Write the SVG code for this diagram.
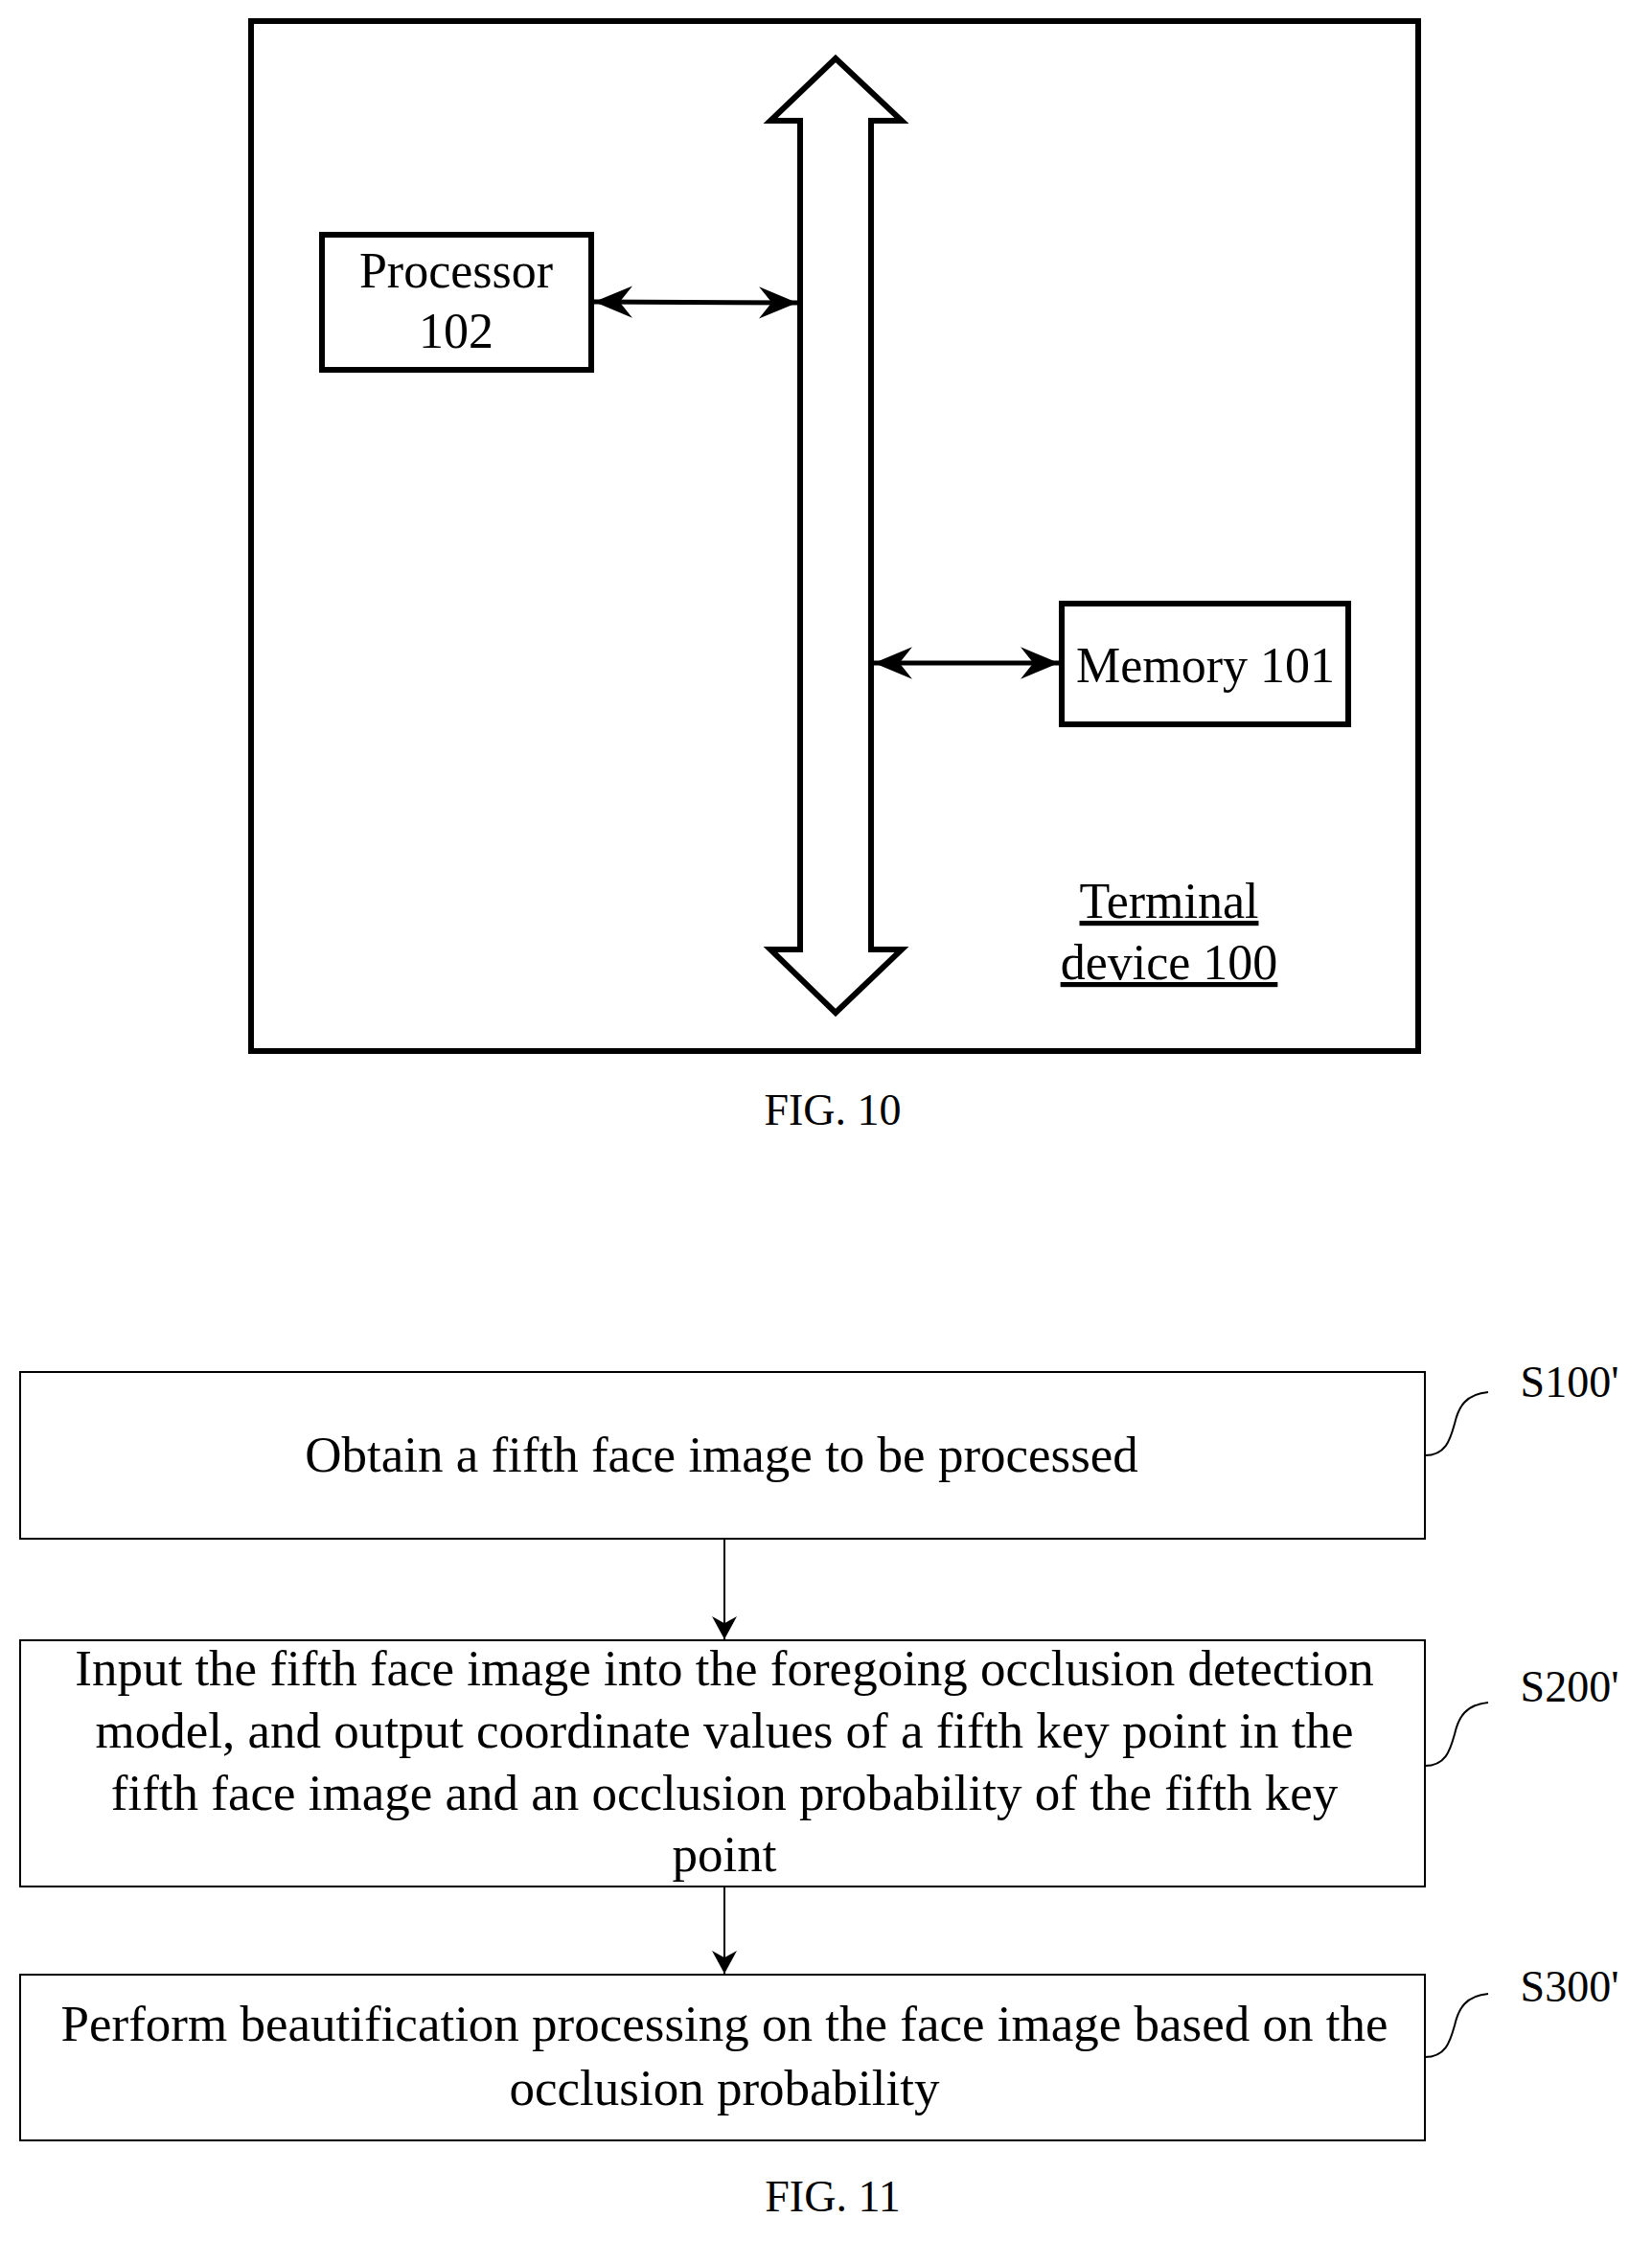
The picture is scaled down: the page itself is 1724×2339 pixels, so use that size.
<svg xmlns="http://www.w3.org/2000/svg" width="1724" height="2339" viewBox="0 0 1724 2339">
<style>
text{font-family:"Liberation Serif","Times New Roman",serif;fill:#000;text-anchor:middle}
.t1{font-size:52px}
.t3{font-size:46px}
.t2{font-size:53px}
.thick{fill:none;stroke:#000;stroke-width:6}
.box{fill:#fff;stroke:#000;stroke-width:2}
.ln{fill:none;stroke:#000;stroke-width:2}
</style>
<defs>
<marker id="bh" viewBox="0 0 12 10" refX="12" refY="5" markerWidth="40" markerHeight="34" orient="auto-start-reverse" markerUnits="userSpaceOnUse"><path d="M0,0 L12,5 L0,10 L4,5 z" fill="#000"/></marker>
<marker id="sh" viewBox="0 0 10 10" refX="10" refY="5" markerWidth="24" markerHeight="26" orient="auto" markerUnits="userSpaceOnUse" preserveAspectRatio="none"><path d="M0,0 L10,5 L0,10 L3,5 z" fill="#000"/></marker>
</defs>
<rect x="262" y="22" width="1218" height="1075" class="thick"/>
<g id="bus"><path class="thick" d="M872,61 L941,126 L909,126 L909,991 L941,991 L872,1057 L804,991 L835,991 L835,126 L804,126 Z" fill="#fff"/></g>
<g id="processor"><rect x="336" y="245" width="281" height="141" class="thick"/><text class="t1" x="476" y="300">Processor</text><text class="t1" x="476" y="363">102</text></g>
<g id="memory"><rect x="1108" y="630" width="299" height="126" class="thick"/><text class="t1" x="1258" y="712">Memory 101</text></g>
<g id="terminal"><text class="t1" x="1220" y="958" text-decoration="underline">Terminal</text><text class="t1" x="1220" y="1022" text-decoration="underline">device 100</text></g>
<text class="t3" x="869" y="1174">FIG. 10</text>
<g id="connectors">
<line x1="620" y1="315" x2="832" y2="316" stroke="#000" stroke-width="5" marker-start="url(#bh)" marker-end="url(#bh)"/>
<line x1="912" y1="692" x2="1105" y2="692" stroke="#000" stroke-width="5" marker-start="url(#bh)" marker-end="url(#bh)"/>
<line x1="756" y1="1606" x2="756" y2="1711" class="ln" marker-end="url(#sh)"/>
<line x1="756" y1="1969" x2="756" y2="2060" class="ln" marker-end="url(#sh)"/>
<path class="ln" d="M1487,1519 C1510,1519 1514,1500 1518,1486 C1522,1468 1530,1455 1553,1453"/>
<path class="ln" d="M1487,1843 C1510,1843 1514,1824 1518,1810 C1522,1792 1530,1779 1553,1777"/>
<path class="ln" d="M1487,2147 C1510,2147 1514,2128 1518,2114 C1522,2096 1530,2083 1553,2081"/>
</g>
<g id="s100"><rect x="21" y="1432" width="1466" height="174" class="box"/><text class="t2" x="753" y="1536">Obtain a fifth face image to be processed</text></g>
<g id="s200"><rect x="21" y="1712" width="1466" height="257" class="box"/>
<text class="t2" x="756" y="1759">Input the fifth face image into the foregoing occlusion detection</text>
<text class="t2" x="756" y="1824">model, and output coordinate values of a fifth key point in the</text>
<text class="t2" x="756" y="1889">fifth face image and an occlusion probability of the fifth key</text>
<text class="t2" x="756" y="1953">point</text></g>
<g id="s300"><rect x="21" y="2061" width="1466" height="173" class="box"/>
<text class="t2" x="756" y="2130">Perform beautification processing on the face image based on the</text>
<text class="t2" x="756" y="2197">occlusion probability</text></g>
<text class="t3" x="1638" y="1458">S100'</text>
<text class="t3" x="1638" y="1776">S200'</text>
<text class="t3" x="1638" y="2089">S300'</text>
<text class="t3" x="869" y="2308">FIG. 11</text>
</svg>
